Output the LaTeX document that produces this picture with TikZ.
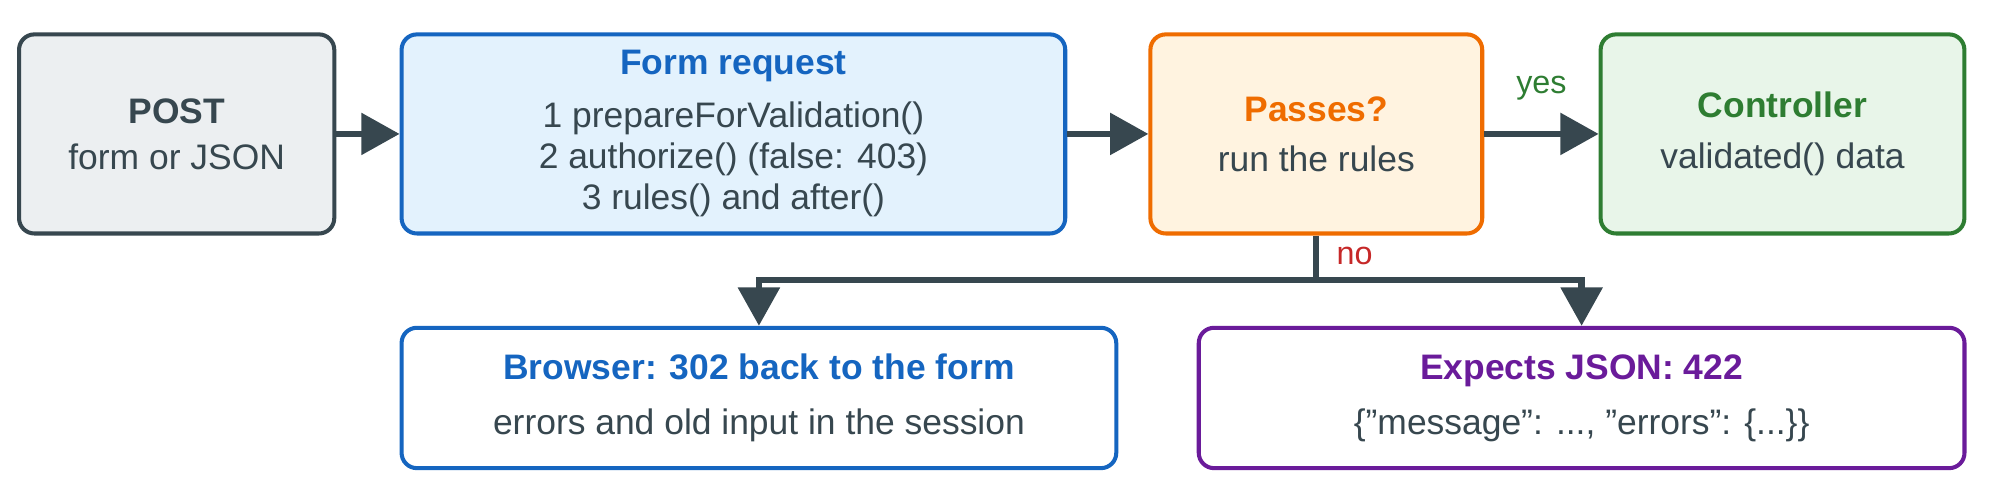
\documentclass[tikz,border=0pt]{standalone}
\usepackage{fontspec}
\setmainfont{Liberation Sans}
\usetikzlibrary{arrows.meta}
\definecolor{dk}{HTML}{37474F}
\definecolor{bl}{HTML}{1565C0}
\definecolor{blf}{HTML}{E3F2FD}
\definecolor{og}{HTML}{EF6C00}
\definecolor{ogf}{HTML}{FFF3E0}
\definecolor{gn}{HTML}{2E7D32}
\definecolor{gnf}{HTML}{E8F5E9}
\definecolor{pp}{HTML}{6A1B9A}
\definecolor{grf}{HTML}{ECEFF1}
\definecolor{rd}{HTML}{C62828}
\newcommand{\dq}{{\char34}}
\begin{document}
\begin{tikzpicture}[x=0.01cm,y=-0.01cm,
  box/.style={draw,line width=0.9pt,rounded corners=0.12cm,align=center,inner sep=0pt,
    font=\fontsize{7.9}{9.2}\selectfont,text=dk},
  arr/.style={draw=dk,line width=1.4pt,-{Triangle[length=0.3cm,width=0.32cm]}},
  lab/.style={font=\fontsize{7.2}{8}\selectfont}]
\useasboundingbox (0,0) rectangle (1568,378);
\node[box,draw=dk,fill=grf,minimum width=2.47cm,minimum height=1.56cm] (post) at (138.5,105)
  {\textbf{POST}\\[1pt]form or JSON};
\node[box,draw=bl,fill=blf,minimum width=5.2cm,minimum height=1.56cm] (form) at (575,105)
  {\textcolor{bl}{\textbf{Form request}}\\[2.5pt]1 prepareForValidation()\\2 authorize() (false: 403)\\3 rules() and after()};
\node[box,draw=og,fill=ogf,minimum width=2.6cm,minimum height=1.56cm] (pass) at (1032,105)
  {\textcolor{og}{\textbf{Passes?}}\\[2pt]run the rules};
\node[box,draw=gn,fill=gnf,minimum width=2.85cm,minimum height=1.56cm] (ctrl) at (1397.5,105)
  {\textcolor{gn}{\textbf{Controller}}\\[2pt]validated() data};
\node[box,draw=bl,fill=white,minimum width=5.6cm,minimum height=1.1cm] (brow) at (595,312)
  {\textcolor{bl}{\textbf{Browser: 302 back to the form}}\\[3pt]errors and old input in the session};
\node[box,draw=pp,fill=white,minimum width=6cm,minimum height=1.1cm] (json) at (1240,312)
  {\textcolor{pp}{\textbf{Expects JSON: 422}}\\[3pt]\{\dq message\dq: ..., \dq errors\dq: \{...\}\}};
\draw[arr] (post) -- (form);
\draw[arr] (form) -- (pass);
\draw[arr] (pass) -- node[lab,text=gn,above=0.12cm]{yes} (ctrl);
\draw[draw=dk,line width=1.4pt] (pass.south) -- ++(0,35) coordinate (j);
\draw[arr] (j) -| (brow.north);
\draw[arr] (j) -| (json.north);
\node[lab,text=rd] (no) at (1062,201) {no};
\end{tikzpicture}
\end{document}
